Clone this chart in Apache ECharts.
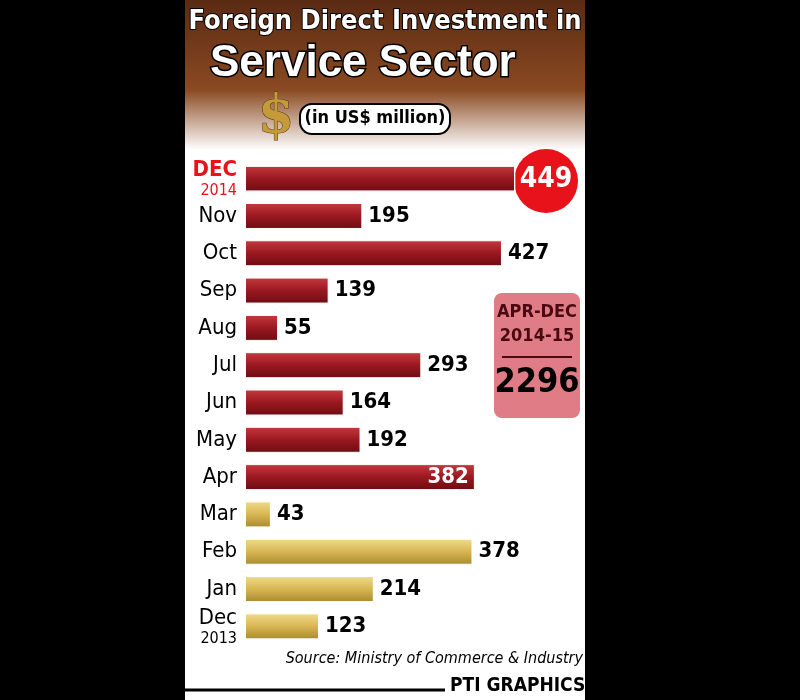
<!DOCTYPE html><html><head><meta charset="utf-8">
<script src="https://cdn.jsdelivr.net/npm/echarts@6/dist/echarts.min.js"></script>
<style>body{margin:0;background:#000}#c{width:800px;height:700px}</style></head><body><div id="c"></div>
<script>
const categories=['Dec 2014','Nov','Oct','Sep','Aug','Jul','Jun','May','Apr','Mar','Feb','Jan','Dec 2013'];
const values=[449,195,427,139,55,293,164,192,382,43,378,214,123];
const fy2014=[true,true,true,true,true,true,true,true,true,false,false,false,false];
const total='2296';
const NF='"DejaVu Sans Condensed","Liberation Sans",sans-serif';
const chart=echarts.init(document.getElementById('c'));
const red={type:'linear',x:0,y:0,x2:0,y2:1,colorStops:[{offset:0,color:'#c43a3f'},{offset:0.5,color:'#9b1820'},{offset:1,color:'#6e0c12'}]};
const yel={type:'linear',x:0,y:0,x2:0,y2:1,colorStops:[{offset:0,color:'#f0dc8c'},{offset:0.5,color:'#d8b653'},{offset:1,color:'#a88a30'}]};
chart.setOption({
 backgroundColor:'#000',
 graphic:[
  {type:'rect',shape:{x:185,y:0,width:400,height:700},style:{fill:'#fff'},z:-10},
  {type:'rect',shape:{x:185,y:0,width:400,height:150},style:{fill:{type:'linear',x:0,y:0,x2:0,y2:1,colorStops:[{offset:0,color:'#5a2a12'},{offset:0.6,color:'#8a4a22'},{offset:1,color:'#ffffff'}]}},z:-9},
  {type:'text',style:{x:385,y:8,align:'center',text:'Foreign Direct Investment in',fill:'#fff',font:'bold 27px '+NF,stroke:'#000',lineWidth:2}},
  {type:'text',style:{x:210,y:42,text:'Service Sector',fill:'#fff',font:'bold 44px "Liberation Sans",sans-serif',stroke:'#000',lineWidth:3}},
  {type:'text',style:{x:258,y:92,text:'$',fill:'#c49a3a',font:'bold 52px "DejaVu Serif",serif',stroke:'#5a3a10',lineWidth:1}},
  {type:'rect',shape:{x:300,y:104,width:150,height:30,r:12},style:{fill:'#fff',stroke:'#000',lineWidth:2}},
  {type:'text',style:{x:375,y:109,align:'center',text:'(in US$ million)',fill:'#000',font:'bold 18px '+NF}},
  {type:'rect',shape:{x:494,y:293,width:86,height:125,r:8},style:{fill:'#e07c86'}},
  {type:'text',style:{x:537,y:300,text:'APR-DEC\n2014-15',align:'center',fill:'#4a0a10',font:'bold 18px '+NF,lineHeight:24}},
  {type:'line',shape:{x1:502,y1:357,x2:572,y2:357},style:{stroke:'#4a0a10',lineWidth:2}},
  {type:'text',style:{x:537,y:366,text:total,align:'center',fill:'#000',font:'bold 34px '+NF}},
  {type:'circle',shape:{cx:546,cy:181,r:32},style:{fill:'#e8121a'}},
  {type:'text',style:{x:546,y:166,text:'449',align:'center',fill:'#fff',font:'bold 28px '+NF}},
  {type:'text',style:{x:583,y:651,align:'right',text:'Source: Ministry of Commerce & Industry',fill:'#000',font:'italic 16px '+NF}},
  {type:'line',shape:{x1:185,y1:690,x2:445,y2:690},style:{stroke:'#000',lineWidth:3}},
  {type:'text',style:{x:450,y:677,text:'PTI GRAPHICS',fill:'#000',font:'bold 19px '+NF}}
 ],
 grid:{left:245,right:215,top:160,bottom:55},
 xAxis:{type:'value',min:0,max:565,show:false},
 yAxis:{type:'category',inverse:true,data:categories,axisLine:{show:false},axisTick:{show:false},
  axisLabel:{margin:8,formatter:(v,i)=>{if(i===0)return '{r|DEC}\n{rs|2014}';if(i===12)return '{b|Dec}\n{s|2013}';return '{b|'+v+'}';},
   rich:{r:{color:'#e8121a',fontSize:22,fontWeight:'bold',fontFamily:NF,lineHeight:24},rs:{color:'#e8121a',fontSize:16,fontFamily:NF},
   b:{color:'#000',fontSize:22,fontFamily:NF,lineHeight:24},s:{color:'#000',fontSize:16,fontFamily:NF}}}},
 series:[{type:'bar',barWidth:26,
  data:values.map((v,i)=>({value:v,itemStyle:{color:fy2014[i]?red:yel,borderColor:'#fff',borderWidth:1},
   label:{show:i!==0,position:i===8?'insideRight':'right',color:i===8?'#fff':'#000',distance:6,fontSize:22,fontWeight:'bold',fontFamily:NF}}))}]
});
</script></body></html>
